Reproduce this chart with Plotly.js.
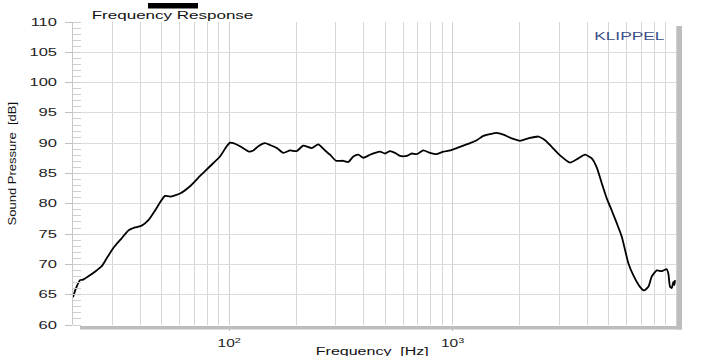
<!DOCTYPE html>
<html>
<head>
<meta charset="utf-8">
<script src="https://cdn.plot.ly/plotly-3.0.1.min.js"></script>
<style>
html,body{margin:0;padding:0;background:#fff;}
#chart{width:707px;height:356px;}
</style>
</head>
<body>
<div id="chart"></div>
<script>
// Frequency (Hz) and sound pressure level (dB)
const freqHz = [20, 20.6, 21.5, 22.2, 23.8, 25.5, 26.9, 28.3, 30.3, 33.0, 35.4, 37.9, 40.6, 43.5, 46.6, 49.0, 51.6, 54.4, 60.3, 66.8, 74.1, 82.1, 91.0, 97.5, 100.9, 104.4, 111.8, 122.7, 128.2, 135.1, 144.7, 152.3, 163.3, 174.8, 187.3, 200.6, 214.7, 234.2, 250.6, 268.5, 282.8, 300.9, 324.3, 341.5, 359.6, 378.6, 398.6, 427.1, 449.7, 473.5, 498.6, 524.8, 552.6, 581.8, 623.4, 656.4, 691.1, 739.6, 792.5, 849.2, 909.3, 974.1, 1043.5, 1079.7, 1197, 1283, 1373, 1471, 1576, 1687, 1840, 2004, 2184, 2420, 2594, 2779, 3027, 3356, 3656, 3917, 4197, 4418, 4652, 4898, 5157, 5430, 5716, 5914, 6119, 6445, 6902, 7193, 7520, 7788, 8199, 8634, 9091, 9242, 9404, 9570, 9730, 9831, 9901];
const splDb = [64.6, 66.0, 67.4, 67.5, 68.2, 69.0, 69.7, 71.0, 72.7, 74.3, 75.6, 76.1, 76.4, 77.3, 78.9, 80.2, 81.3, 81.2, 81.7, 82.9, 84.6, 86.2, 87.8, 89.5, 90.1, 90.0, 89.5, 88.6, 88.8, 89.5, 90.0, 89.7, 89.2, 88.4, 88.8, 88.7, 89.6, 89.2, 89.8, 88.8, 88.1, 87.1, 87.1, 86.9, 87.8, 88.1, 87.6, 88.1, 88.4, 88.6, 88.3, 88.7, 88.4, 87.9, 87.9, 88.3, 88.2, 88.8, 88.4, 88.2, 88.6, 88.8, 89.2, 89.4, 90.0, 90.5, 91.2, 91.5, 91.7, 91.4, 90.8, 90.4, 90.8, 91.1, 90.5, 89.4, 88.0, 86.8, 87.5, 88.1, 87.5, 86.0, 83.4, 80.9, 78.9, 76.8, 74.6, 72.4, 70.2, 68.2, 66.3, 65.7, 66.3, 68.0, 69.0, 68.9, 69.2, 68.5, 66.3, 66.1, 67.1, 66.6, 67.4];

const xTickVals = [100, 1000];
const xTickText = ['10<sup>2</sup>', '10<sup>3</sup>'];
const xGridVals = [20, 30, 40, 50, 60, 70, 80, 90, 100, 200, 300, 400, 500, 600, 700, 800, 900, 1000, 2000, 3000, 4000, 5000, 6000, 7000, 8000, 9000, 10000];
const yRange = [60, 110];

const chartTitle = 'Frequency Response';
const brandText = 'KLIPPEL';
const xTitle = 'Frequency  [Hz]';
const yTitle = 'Sound Pressure  [dB]';

const FONT = '"Liberation Sans", Arial, sans-serif';

const trace = {
  x: freqHz, y: splDb, type: 'scatter', mode: 'lines',
  line: {color: '#000', width: 1.8, shape: 'spline', smoothing: 0.5},
  hoverinfo: 'skip'
};

const layout = {
  width: 707, height: 356,
  margin: {l: 73, r: 31, t: 22, b: 31, pad: 0},
  paper_bgcolor: '#fff', plot_bgcolor: '#fff',
  showlegend: false,
  font: {family: FONT, size: 10, color: '#222'},
  xaxis: {
    type: 'log', range: [Math.log10(20), 4],
    tickmode: 'array', tickvals: xTickVals, ticktext: xTickText,
    ticks: 'outside', ticklen: 5, tickcolor: '#bbb',
    showgrid: true, gridcolor: '#d0d0d0', gridwidth: 1,
    minor: {tickmode: 'array', tickvals: xGridVals, showgrid: true, gridcolor: '#d6d6d6', ticks: ''},
    showline: false, zeroline: false, ticklabelstandoff: 4,
    tickfont: {family: FONT, size: 10, color: '#222'}
  },
  yaxis: {
    range: yRange, tick0: 60, dtick: 5,
    ticks: 'outside', ticklen: 7, tickcolor: '#c0c0c0',
    showgrid: true, gridcolor: '#dcdcdc',
    showline: true, linecolor: '#c8c8c8', zeroline: false,
    minor: {dtick: 1, ticks: 'inside', ticklen: 8, tickcolor: '#cfcfcf', showgrid: false},
    ticklabelstandoff: 6,
    tickfont: {family: FONT, size: 10, color: '#222'}
  },
  shapes: [
    {type: 'rect', xref: 'paper', yref: 'paper', x0: 0.0116, x1: 1.0100, y0: -0.0033, y1: -0.0150, fillcolor: '#bdbdbd', line: {width: 0}},
    {type: 'rect', xref: 'paper', yref: 'paper', x0: 1.0005, x1: 1.0100, y0: -0.0150, y1: 0.987, fillcolor: '#bdbdbd', line: {width: 0}},
    {type: 'rect', xref: 'paper', yref: 'paper', x0: 0.1244, x1: 0.2073, y0: 1.0446, y1: 1.0627, fillcolor: '#000', line: {width: 0}}
  ],
  annotations: [
    {text: chartTitle, xref: 'paper', yref: 'paper', x: 0.165, y: 1.020, xanchor: 'center', yanchor: 'middle', showarrow: false, font: {family: FONT, size: 10, color: '#111'}},
    {text: brandText, xref: 'paper', yref: 'paper', x: 0.923, y: 0.954, xanchor: 'center', yanchor: 'middle', showarrow: false, font: {family: FONT, size: 10.5, color: '#3b5089'}},
    {text: xTitle, xref: 'paper', yref: 'paper', x: 0.4975, y: -0.089, xanchor: 'center', yanchor: 'middle', showarrow: false, font: {family: FONT, size: 10, color: '#111'}},
    {text: yTitle, xref: 'paper', yref: 'paper', x: -0.101, y: 0.531, xanchor: 'center', yanchor: 'middle', textangle: -90, showarrow: false, font: {family: FONT, size: 10, color: '#111'}}
  ]
};

function stretch(sel, k) {
  document.querySelectorAll(sel).forEach(function (t) {
    try {
      const L = t.getComputedTextLength();
      if (L > 0) {
        t.setAttribute('textLength', (L * k).toFixed(1));
        t.setAttribute('lengthAdjust', 'spacingAndGlyphs');
      }
    } catch (e) {}
  });
}

Plotly.newPlot('chart', [trace], layout, {staticPlot: true, displayModeBar: false}).then(function () {
  stretch('.ytick text', 1.65);
  stretch('.xtick text', 1.55);
  stretch('.annotation[data-index="0"] text', 1.7);
  stretch('.annotation[data-index="1"] text', 1.65);
  stretch('.annotation[data-index="2"] text', 1.6);
  stretch('.annotation[data-index="3"] text', 1.3);
});
</script>
</body>
</html>
